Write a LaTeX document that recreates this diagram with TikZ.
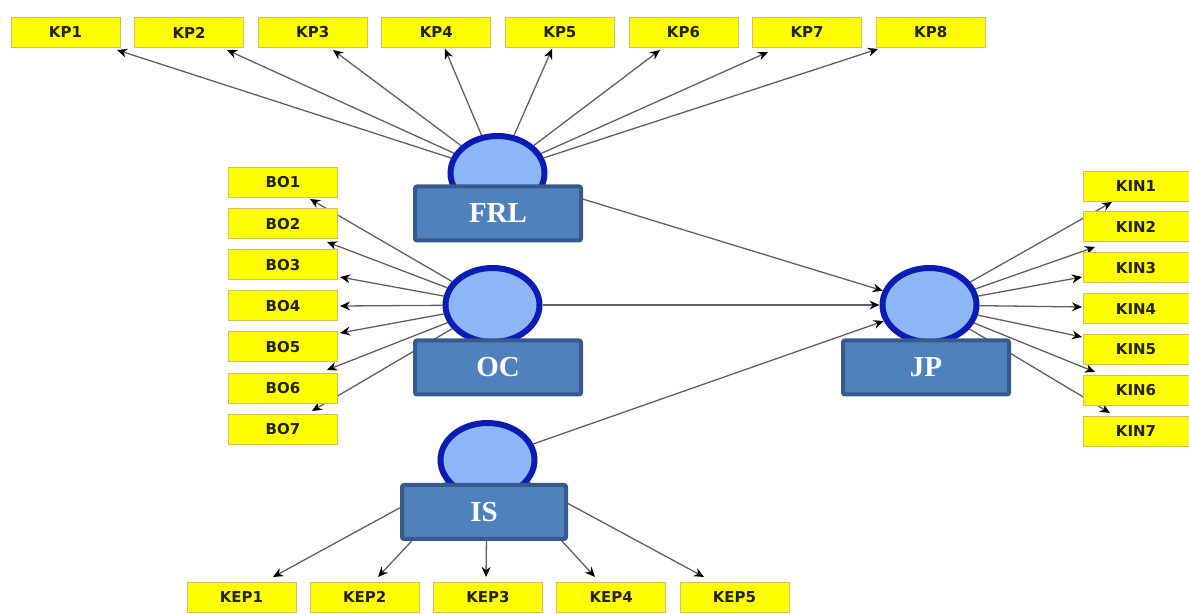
\documentclass[tikz,border=0pt]{standalone}
\usepackage{fontspec}
\usetikzlibrary{shapes.geometric,arrows.meta,calc}
\newfontfamily\indfont{DejaVu Sans}
\newfontfamily\latfont{Liberation Serif}
\pgfdeclarelayer{bg}
\pgfsetlayers{bg,main}
\definecolor{indyel}{RGB}{255,255,0}
\definecolor{indborder}{RGB}{205,195,90}
\definecolor{indtext}{RGB}{35,35,10}
\definecolor{latborder}{RGB}{10,28,180}
\definecolor{latfill}{RGB}{140,182,246}
\definecolor{labfill}{RGB}{79,129,189}
\definecolor{labborder}{RGB}{56,90,138}
\definecolor{linegray}{RGB}{95,95,105}
\tikzset{
  ind/.style={draw=indborder, line width=0.4pt, fill=indyel, minimum width=54.5pt, minimum height=15pt, inner sep=0pt,
    font=\indfont\bfseries\fontsize{7.5}{9}\selectfont, text=indtext},
  kinbox/.style={ind, minimum width=53pt},
  latent/.style={ellipse, draw=latborder, line width=3pt, fill=latfill, minimum width=47pt, minimum height=37pt, inner sep=0pt},
  lab/.style={rectangle, rounded corners=1pt, draw=labborder, line width=2pt, fill=labfill, minimum width=83pt, minimum height=27pt,
    font=\latfont\bfseries\fontsize{14.5}{16}\selectfont, text=white},
  load/.style={draw=linegray, line width=0.65pt, -{Stealth[length=5pt,width=4.4pt,color=black]}}
}
\begin{document}
\begin{tikzpicture}[x=0.5pt,y=-0.5pt]
\useasboundingbox (0,0) rectangle (1189,614);
% indicators
\foreach \i in {1,...,8}{\node[ind] (kp\i) at ({65.5+123.6*(\i-1)},32.5) {KP\i};}
\foreach \i in {1,...,7}{\node[ind] (bo\i) at (283,{182.5+41.1*(\i-1)}) {BO\i};}
\foreach \i in {1,...,7}{\node[kinbox] (kin\i) at (1136,{186+40.9*(\i-1)}) {KIN\i};}
\foreach \i in {1,...,5}{\node[ind] (kep\i) at ({241.5+123.25*(\i-1)},597) {KEP\i};}
% latent ellipses
\node[latent] (frl) at (497.5,173) {};
\node[latent] (oc) at (492.5,305) {};
\node[latent] (is) at (487.5,460) {};
\node[latent] (ip) at (929.5,305) {};
% labels
\node[lab] (frllab) at (498,213.5) {FRL};
\node[lab] (oclab) at (498,367.5) {OC};
\node[lab, minimum width=82pt] (islab) at (484,512) {IS};
\node[lab] (iplab) at (926,367.5) {JP};
% arrow tips
\foreach \i/\tx/\ty in {1/117/50,2/227/50,3/333/50,4/445/49,5/552/49,6/660/50,7/768/52,8/878/49}
  {\coordinate (kpt\i) at (\tx,\ty);}
\foreach \i/\tx/\ty in {1/310/199,2/327/242,3/340/277,4/340/306,5/340/333,6/327/370,7/312/411}
  {\coordinate (bot\i) at (\tx,\ty);}
\foreach \i/\tx/\ty in {1/1112/202,2/1095/247,3/1082/277,4/1082/307,5/1082/337,6/1095/372,7/1110/413}
  {\coordinate (kint\i) at (\tx,\ty);}
\foreach \i/\tx/\ty in {1/273/577,2/378/577,3/486/577,4/595/577,5/704/577}
  {\coordinate (kept\i) at (\tx,\ty);}
\begin{pgfonlayer}{bg}
\foreach \i in {1,...,8}{\draw[load] (frl) -- (kpt\i);}
\foreach \i in {1,...,7}{\draw[load] (oc) -- (bot\i);}
\foreach \i in {1,...,7}{\draw[load] (ip) -- (kint\i);}
\foreach \i in {1,...,5}{\draw[load] (is) -- (kept\i);}
\draw[load] (frl) -- (ip);
\draw[load] (oc) -- (ip);
\draw[load] (is) -- (ip);
\end{pgfonlayer}
\end{tikzpicture}
\end{document}
